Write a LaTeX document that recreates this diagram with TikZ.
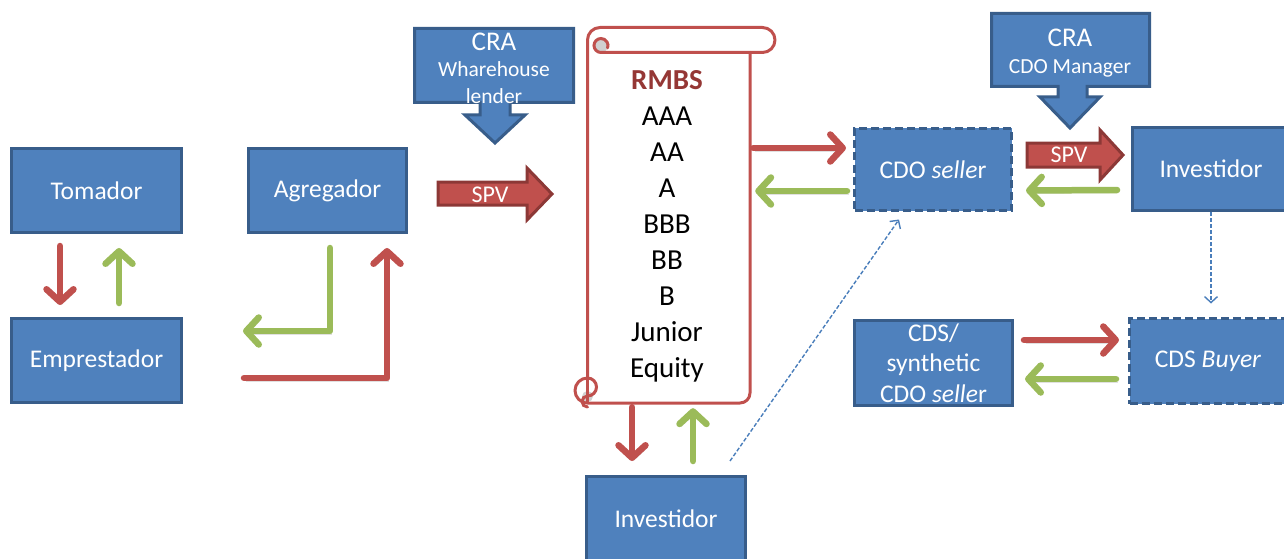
\documentclass[tikz,border=0pt]{standalone}
\usepackage{fontspec}
\setmainfont{Carlito}
\usetikzlibrary{arrows.meta,calc}

\definecolor{boxfill}{HTML}{4F81BD}
\definecolor{boxedge}{HTML}{385D8A}
\definecolor{redfill}{HTML}{C0504D}
\definecolor{rededge}{HTML}{8C3836}
\definecolor{greenarr}{HTML}{9BBB59}
\definecolor{rmbsred}{HTML}{953735}
\definecolor{curlgray}{HTML}{D0D0D0}
\definecolor{thinblue}{HTML}{4A7EBB}

\newcommand{\bigsz}{\fontsize{27}{27}\selectfont}

\tikzset{
  box/.style={draw=boxedge, fill=boxfill, line width=3pt, text=white,
    font=\fontsize{25.5}{30.5}\selectfont, align=center, inner sep=0pt},
  dashbox/.style={box, dash pattern=on 8pt off 4pt},
  callout/.style={draw=boxedge, fill=boxfill, line width=3pt, line join=miter},
  callouttext/.style={text=white, align=center, inner sep=0pt,
    font=\fontsize{21.5}{26.5}\selectfont},
  spvarrow/.style={draw=rededge, fill=redfill, line width=3pt},
  spvtext/.style={text=white, font=\fontsize{24}{26}\selectfont, inner sep=0pt},
  flow/.style={line width=6.5pt, line cap=round, line join=round,
    -{Straight Barb[round, length=12.5pt, width=27pt]},
    preaction={draw=black, draw opacity=0.12, transform canvas={shift={(1.5pt,-3pt)}}}},
  redflow/.style={flow, draw=redfill},
  greenflow/.style={flow, draw=greenarr},
  hint/.style={draw=thinblue, line width=1.4pt, dash pattern=on 4pt off 2pt,
    -{Straight Barb[length=6pt, width=13pt]}},
}

\begin{document}
\begin{tikzpicture}[x=1pt, y=-1pt]
\useasboundingbox (0,0) rectangle (1284,559);

% ---- left column: borrower and lender ----
\node[box, minimum width=170pt, minimum height=84pt] (tom) at (96.5,190.5) {Tomador};
\node[box, minimum width=170pt, minimum height=84pt] (emp) at (96.5,360.5) {Emprestador};
\node[box, minimum width=158pt, minimum height=84pt] (agg) at (327.5,190.5) {Agregador};

\draw[redflow]   ($(tom.south)+(-36.5,12)$) -- ($(emp.north)+(-36.5,-12)$);
\draw[greenflow] ($(emp.north)+(22.5,-14)$) -- ($(tom.south)+(22.5,14)$);
\draw[greenflow] ($(agg.south)+(2.5,14)$) |- ($(emp.east)+(60,-29.5)$);
\draw[redflow]   ($(emp.east)+(61,17.5)$) -| ($(agg.south)+(59.5,14)$);

% ---- rating agency callout over the warehouse lender ----
\path[callout] (414.5,28.5) -- (573.5,28.5) -- (573.5,102.5) -- (510,102.5)
  -- (510,115) -- (525,115) -- (495,143) -- (465,115) -- (480,115)
  -- (480,102.5) -- (414.5,102.5) -- cycle;
\node[callouttext] (craW) at (494,68)
  {{\bigsz CRA}\\Wharehouse\\lender};

% ---- SPV block arrow into the scroll ----
\path[spvarrow] (438,182) -- (527,182) -- (527,168) -- (552,194) -- (527,220)
  -- (527,205) -- (438,205) -- cycle;
\node[spvtext] (spvL) at (490,194.5) {SPV};

% ---- RMBS scroll ----
\node[minimum width=163pt, minimum height=363pt, inner sep=0pt] (scroll) at (668.5,221.5) {};
\path[draw=redfill, fill=white, line width=3pt, line join=round]
  (587.5,40) arc[start angle=180, end angle=270, radius=12.5]
  -- (762.5,27.5) arc[start angle=270, end angle=450, radius=12.5]
  -- (750,52.5) -- (750,393) arc[start angle=0, end angle=90, radius=10]
  -- (587.5,403) arc[start angle=90, end angle=270, radius=12.5] -- cycle;
% top curl
\fill[curlgray] (601,45.5) circle (7);
\draw[redfill, line width=3pt, line cap=round]
  (750,52.5) -- (601,52.5) arc[start angle=90, end angle=270, radius=7]
  arc[start angle=270, end angle=380, radius=7];
% bottom curl
\fill[curlgray] (587.5,396.5) circle (5.5);
\draw[redfill, line width=3pt, line cap=round]
  (587.5,378) arc[start angle=270, end angle=450, radius=9]
  (587.5,396) arc[start angle=270, end angle=90, radius=5.5];
\draw[redfill, line width=3pt] (587.5,378) -- (587.5,403);

\node[align=center, inner sep=0pt, font=\fontsize{29}{36}\selectfont] (rmbs) at (667,226)
  {\textcolor{rmbsred}{\fontsize{29}{36}\selectfont\textbf{RMBS}}\\AAA\\AA\\A\\BBB\\BB\\B\\Junior\\Equity};

% ---- investor under the scroll ----
\node[box, minimum width=159pt, minimum height=84pt] (invB) at (666,518.5) {Investidor};
\draw[redflow]   ($(scroll.south)+(-36.5,4)$) -- ($(invB.north)+(-34,-14)$);
\draw[greenflow] ($(invB.north)+(27,-14)$) -- ($(scroll.south)+(24.5,5)$);

% ---- CDO seller ----
\node[dashbox, minimum width=157pt, minimum height=82pt] (cdoS) at (933,169.5) {CDO \textit{selle}r};
\draw[redflow]   ($(scroll.east |- cdoS.west)+(3,-21.5)$) -- ($(cdoS.west)+(-7,-21.5)$);
\draw[greenflow] ($(cdoS.west)+(-6,21.5)$) -- ($(scroll.east |- cdoS.west)+(5,21.5)$);
\draw[hint] ($(invB.north)+(64,-14)$) -- ($(cdoS.south)+(-34,7.5)$);

% ---- rating agency callout over the CDO manager ----
\path[callout] (991.5,13.5) -- (1149.5,13.5) -- (1149.5,86.5) -- (1087,86.5)
  -- (1087,97) -- (1100,97) -- (1070,128) -- (1040,97) -- (1058,97)
  -- (1058,86.5) -- (991.5,86.5) -- cycle;
\node[callouttext] (craM) at (1070,53)
  {{\bigsz CRA}\\CDO Manager};

% ---- SPV block arrow towards the investor ----
\path[spvarrow] (1027,143) -- (1100,143) -- (1100,130) -- (1123,155) -- (1100,180)
  -- (1100,167) -- (1027,167) -- cycle;
\node[spvtext] (spvR) at (1069,155) {SPV};

% ---- investor on the right ----
\node[box, minimum width=157pt, minimum height=83pt] (invR) at (1211,169) {Investidor};
\draw[greenflow] ($(invR.west)+(-14,21)$) -- ($(cdoS.east)+(13,21)$);

% ---- credit default swaps ----
\node[box, minimum width=158pt, minimum height=85pt] (cdsS) at (933.5,363)
  {CDS/\\synthetic\\CDO \textit{selle}r};
\node[dashbox, minimum width=157pt, minimum height=85pt] (cdsB) at (1208,361) {CDS \textit{Buyer}};
\draw[redflow]   ($(cdsS.east)+(10,-23)$) -- ($(cdsB.west)+(-9,-21)$);
\draw[greenflow] ($(cdsB.west)+(-12,18)$) -- ($(cdsS.east)+(11,16)$);
\draw[hint] (invR.south) -- ($(cdsB.north)+(3,-13.5)$);

\end{tikzpicture}
\end{document}
